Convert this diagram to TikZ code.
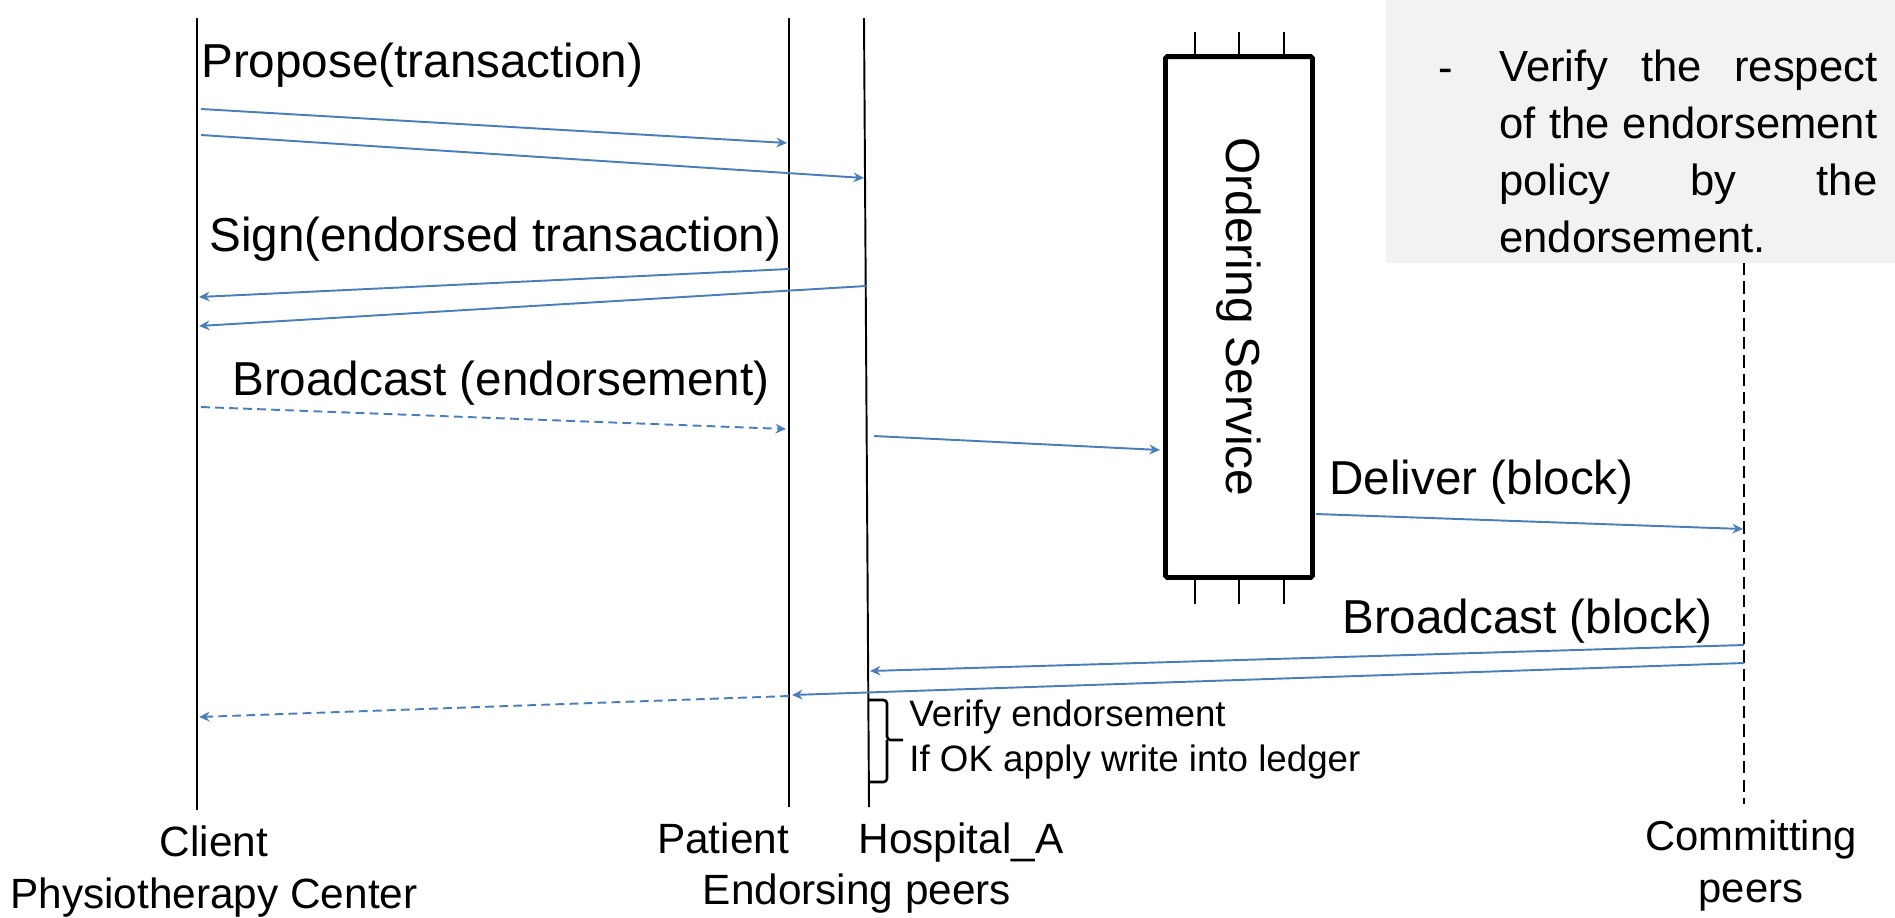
\documentclass[tikz,border=0pt]{standalone}
\usepackage{fontspec}
\setmainfont{Liberation Sans}
\usepackage{graphicx}
\usetikzlibrary{arrows.meta}

\definecolor{msgblue}{HTML}{4A7EBB}
\definecolor{notegray}{HTML}{F2F2F2}

\tikzset{
  lifeline/.style={line width=1.1pt},
  commitline/.style={line width=0.9pt, dash pattern=on 7pt off 3.5pt},
  msg/.style={draw=msgblue, line width=1.1pt, -{Stealth[length=6pt,width=5.5pt,inset=2pt]}},
  msgdash/.style={msg, dash pattern=on 5pt off 3pt},
  msglabel/.style={anchor=west, inner sep=0pt, font=\fontsize{27.1}{32}\selectfont},
  actor/.style={anchor=base, inner sep=0pt, font=\fontsize{24.1}{29.5}\selectfont},
  orderbox/.style={draw, line width=2.8pt, rounded corners=1pt, minimum width=2.94cm,
    minimum height=10.42cm, inner sep=0pt, font=\fontsize{27.2}{32}\selectfont},
  tick/.style={line width=0.9pt},
  bracket/.style={line width=1.5pt, rounded corners=2pt},
  notetext/.style={anchor=north west, inner sep=0pt, text width=7.56cm, align=justify,
    font=\fontsize{24.8}{32.3}\selectfont},
}

\begin{document}
\begin{tikzpicture}[x=0.02cm, y=-0.02cm]
  \useasboundingbox (0,0) rectangle (1895,917);

  % note in the top right corner
  \fill[notegray] (1386,0) rectangle (1895,263);
  \node[anchor=base west, inner sep=0pt, font=\fontsize{24.8}{32.3}\selectfont] (dash) at (1438,82) {-};
  \node[notetext] (note) at (1499,50) {Verify the respect\linebreak
    of the endorsement\linebreak
    policy by the\linebreak
    endorsement.};

  % lifelines
  \coordinate (cliT) at (197,18);
  \coordinate (cliB) at (197,810);
  \coordinate (patT) at (789,18);
  \coordinate (patB) at (789,807);
  \coordinate (hosT) at (864,18);
  \coordinate (hosB) at (869,807);
  \coordinate (comT) at (1744,263);
  \coordinate (comB) at (1744,804);
  \draw[lifeline] (cliT) -- (cliB);
  \draw[lifeline] (patT) -- (patB);
  \draw[lifeline] (hosT) -- (hosB);
  \draw[commitline] (comT) -- (comB);

  % ordering service
  \node[orderbox] (order) at (1239,317) {\rotatebox{-90}{Ordering Service}};
  \foreach \x in {1195,1239,1284} {
    \draw[tick] (\x,32) -- (\x,54);
    \draw[tick] (\x,580) -- (\x,604);
  }

  % end points of the messages
  \coordinate (c1) at (201,109);
  \coordinate (c2) at (201,135);
  \coordinate (c3) at (199,297);
  \coordinate (c4) at (199,326);
  \coordinate (c5) at (201,407);
  \coordinate (c10) at (199,717);
  \coordinate (p1) at (787,143);
  \coordinate (p3) at (789,269);
  \coordinate (p5) at (786,429);
  \coordinate (p9) at (792,695);
  \coordinate (p10) at (789,696);
  \coordinate (h2) at (864,178);
  \coordinate (h4) at (866,286);
  \coordinate (h6) at (874,436);
  \coordinate (h8) at (870,671);
  \coordinate (o6) at (1160,450);
  \coordinate (o7) at (1316,514);
  \coordinate (m7) at (1743,529);
  \coordinate (m8) at (1744,645);
  \coordinate (m9) at (1744,663);

  % messages
  \node[msglabel] (propose) at (201,65) {Propose(transaction)};
  \draw[msg] (c1) -- (p1);
  \draw[msg] (c2) -- (h2);
  \node[msglabel] (sign) at (209,239) {Sign(endorsed transaction)};
  \draw[msg] (p3) -- (c3);
  \draw[msg] (h4) -- (c4);
  \node[msglabel] (bcastE) at (232,383) {Broadcast (endorsement)};
  \draw[msgdash] (c5) -- (p5);
  \draw[msg] (h6) -- (o6);
  \node[msglabel] (deliver) at (1329,482) {Deliver (block)};
  \draw[msg] (o7) -- (m7);
  \node[msglabel] (bcastB) at (1342,621) {Broadcast (block)};
  \draw[msg] (m8) -- (h8);
  \draw[msg] (m9) -- (p9);
  \draw[msgdash] (p10) -- (c10);

  % commit step on Hospital_A
  \coordinate (brT) at (869,700);
  \coordinate (brB) at (869,782);
  \draw[bracket] (brT) -| (887,740) -- (903,740);
  \draw[bracket] (brB) -| (887,740);
  \node[anchor=north west, inner sep=0pt, align=left, font=\fontsize{20.9}{25.5}\selectfont]
    (verify) at (909,700) {Verify endorsement\\If OK apply write into ledger};

  % actors
  \node[actor, align=center] (client) at (214,908) {Client\\Physiotherapy Center};
  \node[actor] (patient) at (723,853) {Patient};
  \node[actor] (hospital) at (961,853) {Hospital\_A};
  \node[actor] (endorsing) at (857,904) {Endorsing peers};
  \node[actor, align=center, font=\fontsize{23.8}{29.5}\selectfont] (committing) at (1751,902) {Committing\\peers};
\end{tikzpicture}
\end{document}
